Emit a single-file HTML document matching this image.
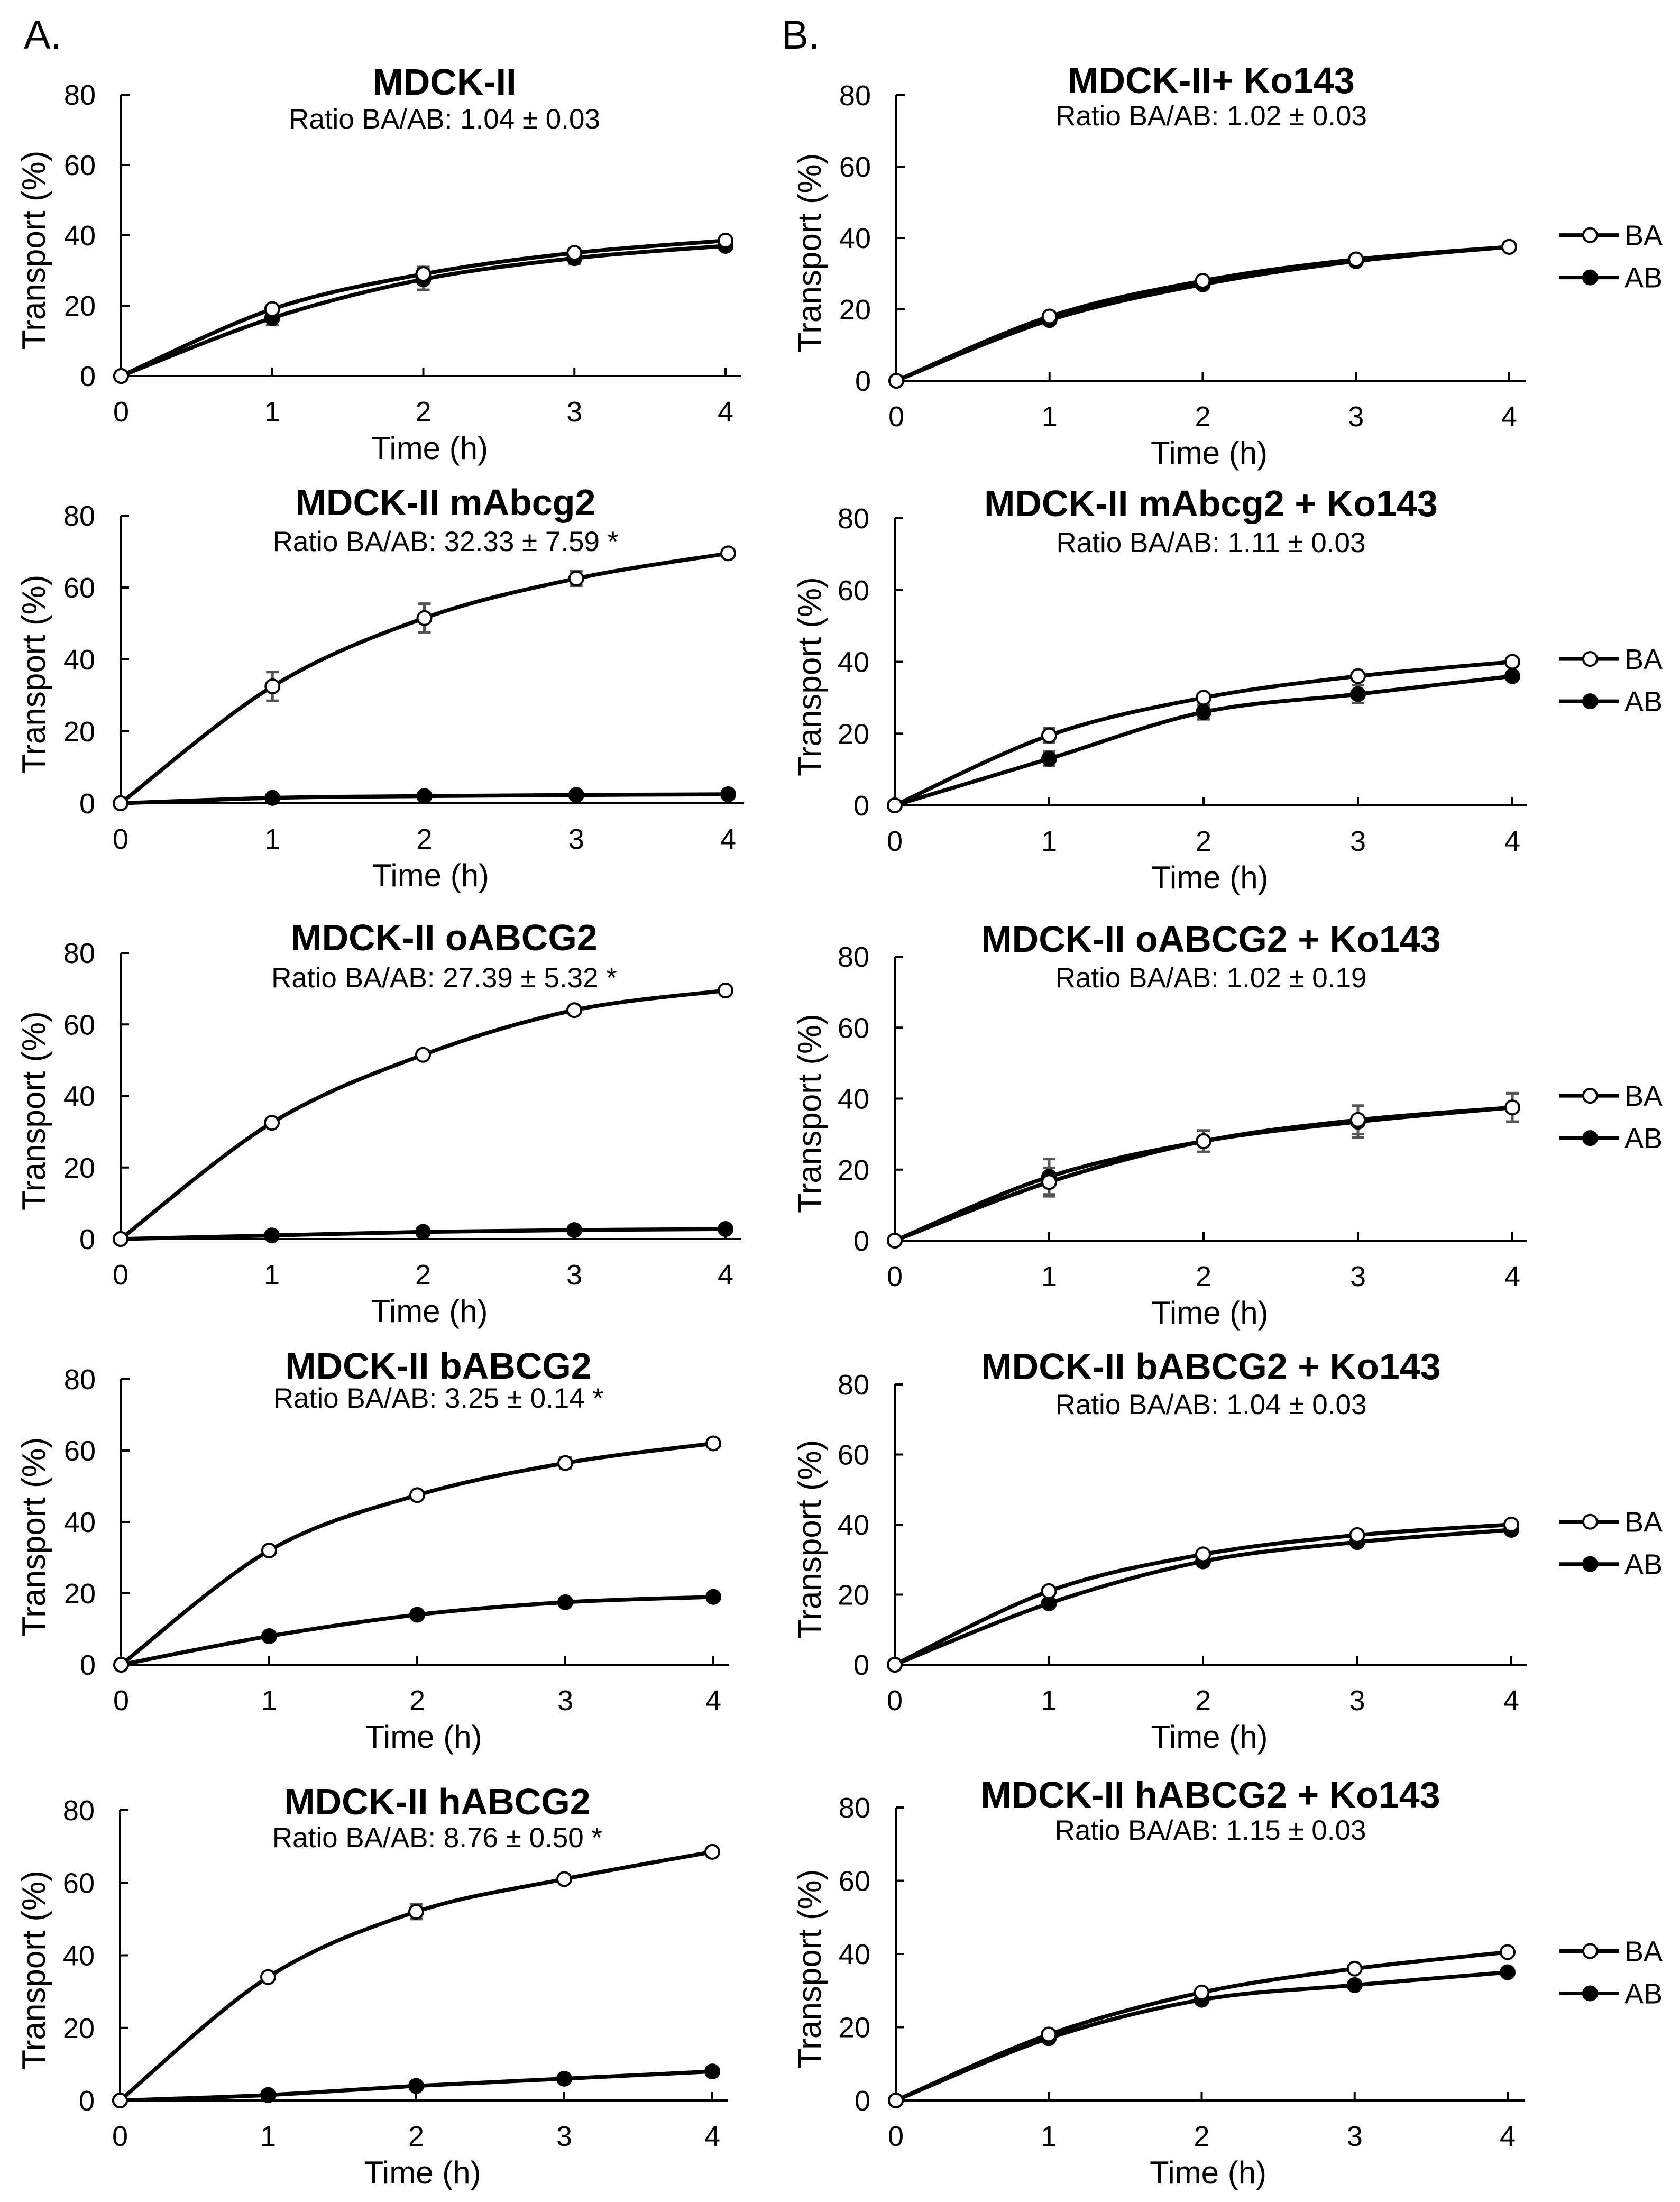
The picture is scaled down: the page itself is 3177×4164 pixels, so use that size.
<!DOCTYPE html>
<html><head><meta charset="utf-8">
<style>
html,body{margin:0;padding:0;background:#fff;}
svg{display:block;font-family:"Liberation Sans",Arial,sans-serif;}
</style></head>
<body>
<svg id="fig" width="3177" height="4164" viewBox="0 0 3177 4164" xmlns="http://www.w3.org/2000/svg">
<rect width="3177" height="4164" fill="#fff"/>
<text x="45" y="92" font-size="76">A.</text>
<text x="1478" y="92" font-size="76">B.</text>
</svg>
<script>
// ---- data (percent transport at 0..4 h) ----
const times = [0, 1, 2, 3, 4];
const yTicks = [0, 20, 40, 60, 80];
const titles = ["MDCK-II","MDCK-II mAbcg2","MDCK-II oABCG2","MDCK-II bABCG2","MDCK-II hABCG2",
  "MDCK-II+ Ko143","MDCK-II mAbcg2 + Ko143","MDCK-II oABCG2 + Ko143","MDCK-II bABCG2 + Ko143","MDCK-II hABCG2 + Ko143"];
const ratios = ["Ratio BA/AB: 1.04 \u00b1 0.03","Ratio BA/AB: 32.33 \u00b1 7.59 *","Ratio BA/AB: 27.39 \u00b1 5.32 *","Ratio BA/AB: 3.25 \u00b1 0.14 *","Ratio BA/AB: 8.76 \u00b1 0.50 *",
  "Ratio BA/AB: 1.02 \u00b1 0.03","Ratio BA/AB: 1.11 \u00b1 0.03","Ratio BA/AB: 1.02 \u00b1 0.19","Ratio BA/AB: 1.04 \u00b1 0.03","Ratio BA/AB: 1.15 \u00b1 0.03"];
const baValues = [
  [0,19,29,35,38.5],[0,32.5,51.5,62.5,69.5],[0,32.5,51.5,64,69.5],[0,32,47.5,56.5,62],[0,34,52,61,68.5],
  [0,18,28,34,37.5],[0,19.5,30,36,40],[0,16.5,28,34,37.5],[0,21,31.5,37,40],[0,18,29.5,36,40.5]];
const abValues = [
  [0,16.5,27.5,33.5,37],[0,1.5,2,2.3,2.5],[0,1,2,2.5,2.8],[0,8,14,17.5,19],[0,1.5,4,6,8],
  [0,17,27,33.5,37.5],[0,13,26,31,36],[0,18,28,33.5,37.5],[0,17.5,29.5,35,38.5],[0,17,27.5,31.5,35]];
const baErrors = [
  [0,1,2,1,1],[0,4,4,2,0.5],[0,0.5,0.5,0.5,0.5],[0,0.5,0.5,1.5,0.5],[0,0.5,2,1,0.5],
  [0,0.5,0.5,0.5,0.5],[0,2,0.5,0.5,0.5],[0,4,3,4,4],[0,0.5,0.5,0.5,0.5],[0,0.5,0.5,0.5,0.5]];
const abErrors = [
  [0,2,3,1.5,1],[0,0.3,0.3,0.3,0.3],[0,0.3,0.3,0.3,0.3],[0,0.5,0.5,0.5,0.5],[0,0.5,0.5,0.5,0.5],
  [0,0.5,0.5,0.5,0.5],[0,2,2,2.5,0.5],[0,5,3,4.5,4],[0,0.5,0.5,0.5,0.5],[0,0.5,0.5,1,0.5]];

// ---- layout (pixels) ----
const layout = [
  {x0:229,x4:1372,xe:1402,y80:179,y0:711,t:155,r:224},
  {x0:228,x4:1377,xe:1407,y80:975,y0:1519,t:950,r:1023},
  {x0:228,x4:1372,xe:1402,y80:1802,y0:2343,t:1773,r:1848},
  {x0:229,x4:1349,xe:1379,y80:2608,y0:3148,t:2583,r:2643},
  {x0:227,x4:1347,xe:1377,y80:3423,y0:3972,t:3407,r:3474},
  {x0:1695,x4:2854,xe:2886,y80:180,y0:720,t:152,r:218},
  {x0:1692,x4:2860,xe:2888,y80:980,y0:1523,t:952,r:1025},
  {x0:1692,x4:2860,xe:2888,y80:1809,y0:2346,t:1776,r:1848},
  {x0:1692,x4:2858,xe:2888,y80:2618,y0:3148,t:2584,r:2655},
  {x0:1694,x4:2851,xe:2884,y80:3418,y0:3972,t:3394,r:3460}];

const NS = "http://www.w3.org/2000/svg";
const svg = document.getElementById("fig");
function mk(tag, attrs, parent){
  const e = document.createElementNS(NS, tag);
  for (const k in attrs) e.setAttribute(k, attrs[k]);
  (parent||svg).appendChild(e);
  return e;
}
function smoothPath(pts){
  let d = "M"+pts[0][0]+","+pts[0][1];
  for (let i=0;i<pts.length-1;i++){
    const p0 = pts[Math.max(0,i-1)], p1 = pts[i], p2 = pts[i+1], p3 = pts[Math.min(pts.length-1,i+2)];
    const c1x = p1[0]+(p2[0]-p0[0])/6, c1y = p1[1]+(p2[1]-p0[1])/6;
    const c2x = p2[0]-(p3[0]-p1[0])/6, c2y = p2[1]-(p3[1]-p1[1])/6;
    d += " C"+c1x+","+c1y+" "+c2x+","+c2y+" "+p2[0]+","+p2[1];
  }
  return d;
}

for (let p=0;p<10;p++){
  const L = layout[p];
  const xs = t => L.x0 + (L.x4-L.x0)*t/4;
  const ys = v => L.y0 - (L.y0-L.y80)*v/80;
  const g = mk("g", {});
  
  
  const cx = (L.x0+L.xe)/2 + (p<5?25:0);

  const tt = mk("text", {x:cx, y:L.t+24, "font-size":70, "font-weight":"bold", "text-anchor":"middle"}, g);
  tt.textContent = titles[p];
  
  
  const rt = mk("text", {x:cx, y:L.r+19, "font-size":53, "text-anchor":"middle"}, g);
  rt.textContent = ratios[p];
  
  

  const ya = mk("line", {x1:L.x0, y1:L.y80, x2:L.x0, y2:L.y0, stroke:"#000", "stroke-width":4}, g);
  
  
  const xa = mk("line", {x1:L.x0, y1:L.y0, x2:L.xe, y2:L.y0, stroke:"#000", "stroke-width":4}, g);
  
  
  yTicks.forEach(v=>{
    mk("line",{x1:L.x0, y1:ys(v), x2:L.x0+16, y2:ys(v), stroke:"#000","stroke-width":4},g);
    const tl = mk("text",{x:L.x0-48, y:ys(v)+19, "font-size":54, "text-anchor":"end"},g);
    tl.textContent = v;
    
    
  });
  times.forEach(t=>{
    mk("line",{x1:xs(t), y1:L.y0, x2:xs(t), y2:L.y0-16, stroke:"#000","stroke-width":4},g);
    const tl = mk("text",{x:xs(t), y:L.y0+86, "font-size":54, "text-anchor":"middle"},g);
    tl.textContent = t;
    
    
  });
  const xt = mk("text",{x:(L.x0+L.x4)/2+12, y:L.y0+157, "font-size":60, "text-anchor":"middle"},g);
  xt.textContent = "Time (h)";
  
  
  const ytx = (p<5?85:1552), yty = (L.y0+L.y80)/2+28;
  const yt = mk("text",{x:ytx, y:yty, "font-size":62, "text-anchor":"middle", transform:"rotate(-90 "+ytx+" "+yty+")"},g);
  yt.textContent = "Transport (%)";
  
  

  const series = [{v:abValues[p], e:abErrors[p], fill:"#000", name:"ab"},{v:baValues[p], e:baErrors[p], fill:"#fff", name:"ba"}];
  series.forEach(s=>{
    s.v.forEach((v,i)=>{
      if (s.e[i] > 0.6){
        const x = xs(times[i]), yt1 = ys(v+s.e[i]), yb = ys(v-s.e[i]);
        const eb = mk("path",{d:"M"+x+","+yt1+"V"+yb+"M"+(x-12)+","+yt1+"H"+(x+12)+"M"+(x-12)+","+yb+"H"+(x+12), stroke:"#555","stroke-width":5, fill:"none"},g);
        
        
      }
    });
  });
  series.forEach(s=>{
    const pts = s.v.map((v,i)=>[xs(times[i]), ys(v)]);
    const ln = mk("path",{d:smoothPath(pts), stroke:"#000","stroke-width":7.5, fill:"none"},g);
    
    
  });
  series.forEach(s=>{
    s.v.forEach((v,i)=>{
      const c = mk("circle",{cx:xs(times[i]), cy:ys(v), r:13, fill:s.fill, stroke:"#000","stroke-width":4},g);
      
      
    });
  });

  if (p>=5){
    const baY = L.y80 + (L.y0-L.y80)*0.49, abY = baY + 80;
    [["BA","#fff",baY],["AB","#000",abY]].forEach(e=>{
      const lg = mk("g",{},g);
      
      
      mk("line",{x1:2949,y1:e[2],x2:3062,y2:e[2],stroke:"#000","stroke-width":7},lg);
      mk("circle",{cx:3007,cy:e[2],r:13,fill:e[1],stroke:"#000","stroke-width":4},lg);
      const lt = mk("text",{x:3072,y:e[2]+19,"font-size":54},lg);
      lt.textContent = e[0];
      
      
    });
  }
}
</script>
</body></html>
